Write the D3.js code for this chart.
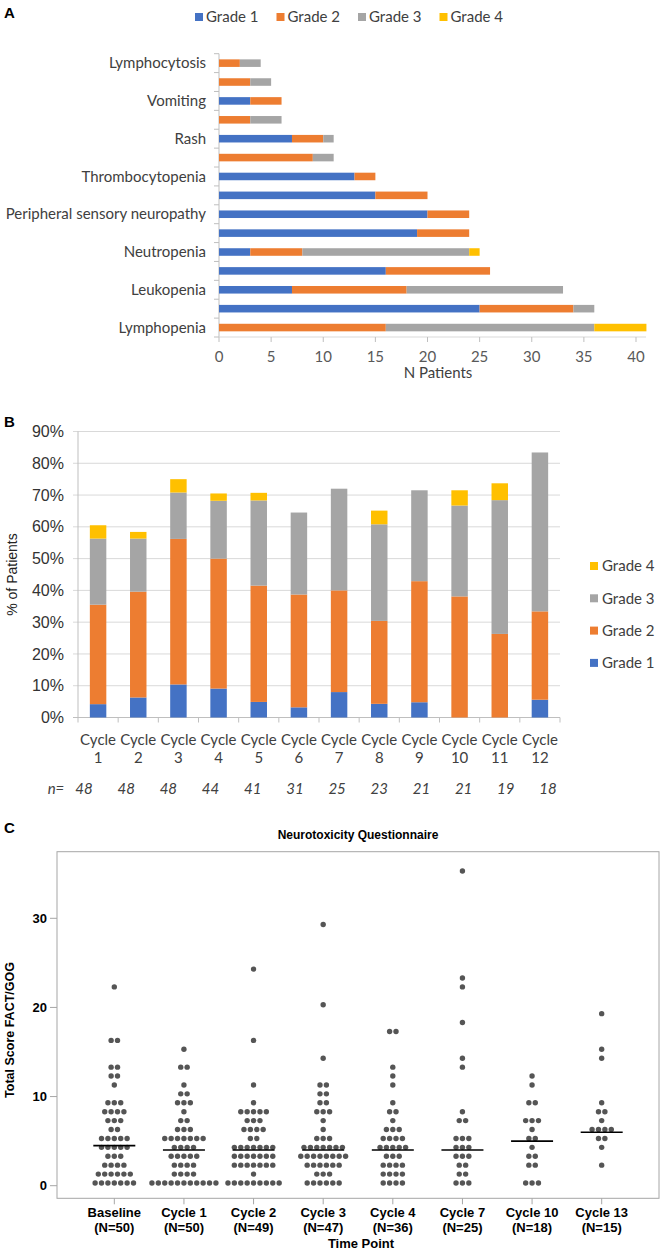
<!DOCTYPE html>
<html><head><meta charset="utf-8">
<script src="https://cdn.jsdelivr.net/npm/d3@7"></script>
<style>body{margin:0;background:#fff}svg{display:block}</style>
</head><body>
<svg id="c" width="662" height="1250"></svg>
<script>
// ---------- Panel A data ----------
const aeLabels = ["Lymphocytosis","","Vomiting","","Rash","","Thrombocytopenia","","Peripheral sensory neuropathy","","Neutropenia","","Leukopenia","","Lymphopenia"];
const aeGrade1 = [0,0,3,0,7,0,13,15,20,19,3,16,7,25,0];
const aeGrade2 = [2,3,3,3,3,9,2,5,4,5,5,10,11,9,16];
const aeGrade3 = [2,2,0,3,1,2,0,0,0,0,16,0,15,2,20];
const aeGrade4 = [0,0,0,0,0,0,0,0,0,0,1,0,0,0,5];
const aeTicks = [0,5,10,15,20,25,30,35,40];
const gradeNames = ["Grade 1","Grade 2","Grade 3","Grade 4"];

// ---------- Panel B data ----------
const cycles = ["Cycle 1","Cycle 2","Cycle 3","Cycle 4","Cycle 5","Cycle 6","Cycle 7","Cycle 8","Cycle 9","Cycle 10","Cycle 11","Cycle 12"];
const cycleN = [48,48,48,44,41,31,25,23,21,21,19,18];
const pctGrade1 = [4.2,6.3,10.4,9.1,4.9,3.2,8.0,4.3,4.8,0,0,5.6];
const pctGrade2 = [31.3,33.3,45.8,40.9,36.6,35.5,32.0,26.1,38.1,38.1,26.3,27.8];
const pctGrade3 = [20.8,16.7,14.6,18.2,26.8,25.8,32.0,30.4,28.6,28.6,42.1,50.0];
const pctGrade4 = [4.2,2.1,4.2,2.3,2.4,0,0,4.3,0,4.8,5.3,0];
const pctTicks = [0,10,20,30,40,50,60,70,80,90];

// ---------- Panel C data ----------
const timePoints = ["Baseline","Cycle 1","Cycle 2","Cycle 3","Cycle 4","Cycle 7","Cycle 10","Cycle 13"];
const timeN = [50,50,49,47,36,25,18,15];
const scoreBaseline = [0,0,0,0,0,0,0,1,1,1,1,1,1,2,2,2,2,3,3,3,4,4,4,4,4,5,5,5,5,5,6,6,7,7,7,8,8,8,8,9,9,9,11,12,12,13,13,16,16,22];
const scoreCycle1 = [0,0,0,0,0,0,0,0,0,0,0,1,1,1,1,2,2,2,2,3,3,3,3,3,4,4,4,4,5,5,5,5,5,5,5,6,6,6,7,7,8,9,9,9,10,10,11,13,13,15];
const scoreCycle2 = [0,0,0,0,0,0,0,0,0,1,2,2,2,2,2,2,2,3,3,3,3,3,3,3,4,4,4,4,4,4,4,5,5,6,6,6,6,7,7,7,8,8,8,8,8,9,11,16,24];
const scoreCycle3 = [0,0,0,0,0,0,1,1,1,2,2,2,2,2,2,3,3,3,3,3,3,3,3,4,4,4,4,4,4,4,5,5,5,6,7,8,8,8,9,9,10,10,11,11,14,20,29];
const scoreCycle4 = [0,0,0,0,1,1,1,1,2,2,2,2,3,3,3,4,4,4,4,4,5,5,5,5,6,6,6,7,8,8,9,11,12,13,17,17];
const scoreCycle7 = [0,0,0,1,1,2,2,3,3,3,4,4,4,5,5,5,7,7,8,13,14,18,22,23,35];
const scoreCycle10 = [0,0,0,2,2,3,3,4,5,5,6,7,7,7,9,9,11,12];
const scoreCycle13 = [2,4,5,5,6,6,6,6,7,8,8,9,14,15,19];
const yTicksC = [0,10,20,30];

// ---------- common ----------
const svg = d3.select("#c");
const fCal = "Lato, 'Open Sans', sans-serif";
const fAr = "'Liberation Sans', Arial, sans-serif";
const gradeColors = ["#4472C4","#ED7D31","#A5A5A5","#FFC000"];

function panelLetter(t, x, y){
  svg.append("text").attr("x",x).attr("y",y).text(t)
    .attr("font-family",fAr).attr("font-weight","bold").attr("font-size",15).attr("fill","#000");
}

// =============== Panel A ===============
panelLetter("A",4,17.5);
const ax = d3.scaleLinear().domain([0,40]).range([219,636]);
const ay = d3.scaleBand().domain(d3.range(aeLabels.length)).range([53.7,337]).paddingInner(0.6).paddingOuter(0.3);
const aSeries = [aeGrade1,aeGrade2,aeGrade3,aeGrade4];
const aRows = aeLabels.map((l,i)=>({i}));
const aStack = d3.stack().keys([0,1,2,3]).value((d,k)=>aSeries[k][d.i])(aRows);

const gA = svg.append("g");
const aStep = ay.step();
const aTop = ay.range()[0];
gA.append("line").attr("x1",ax(0)).attr("x2",ax(0)).attr("y1",aTop).attr("y2",aTop+aStep*aeLabels.length).attr("stroke","#bfbfbf");
gA.selectAll("line.yt").data(d3.range(aeLabels.length+1)).join("line")
  .attr("x1",ax(0)-5).attr("x2",ax(0)).attr("y1",k=>aTop+k*aStep).attr("y2",k=>aTop+k*aStep).attr("stroke","#bfbfbf");
const aBottom = aTop+aStep*aeLabels.length;
gA.append("line").attr("x1",ax(0)).attr("x2",ax(40)+10).attr("y1",aBottom).attr("y2",aBottom).attr("stroke","#d9d9d9");
gA.selectAll("line.xt").data(aeTicks).join("line")
  .attr("x1",d=>ax(d)).attr("x2",d=>ax(d)).attr("y1",aBottom).attr("y2",aBottom+5).attr("stroke","#bfbfbf");
gA.selectAll("text.xl").data(aeTicks).join("text")
  .attr("x",d=>ax(d)).attr("y",aBottom+25).attr("text-anchor","middle")
  .attr("font-family",fCal).attr("font-size",15).attr("fill","#595959").text(d=>d);
gA.append("text").attr("x",438).attr("y",aBottom+41).attr("text-anchor","middle")
  .attr("font-family",fCal).attr("font-size",15).attr("fill","#404040").text("N Patients");
aStack.forEach((s,k)=>{
  gA.selectAll(null).data(s.filter(d=>d[1]>d[0])).join("rect")
    .attr("x",d=>ax(d[0])).attr("width",d=>ax(d[1])-ax(d[0]))
    .attr("y",d=>ay(d.data.i)).attr("height",ay.bandwidth())
    .attr("fill",gradeColors[k]);
});
gA.selectAll("text.cat").data(aeLabels.map((l,i)=>({l,i})).filter(d=>d.l)).join("text")
  .attr("x",206).attr("y",d=>ay(d.i)+ay.bandwidth()/2).attr("dy","0.35em").attr("text-anchor","end")
  .attr("font-family",fCal).attr("font-size",15).attr("fill","#404040").text(d=>d.l);
{
  let x = 195;
  gradeNames.forEach((n,k)=>{
    gA.append("rect").attr("x",x).attr("y",13).attr("width",8).attr("height",8).attr("fill",gradeColors[k]);
    const t = gA.append("text").attr("x",x+11).attr("y",17).attr("dy","0.35em")
      .attr("font-family",fCal).attr("font-size",15).attr("fill","#404040").text(n);
    x += 11 + t.node().getComputedTextLength() + 18;
  });
}

// =============== Panel B ===============
panelLetter("B",4,426.5);
const bx = d3.scaleBand().domain(cycles).range([78,560]).paddingInner(0.59).paddingOuter(0.295);
const by = d3.scaleLinear().domain([0,90]).range([717.5,431.5]);
const bSeries = [pctGrade1,pctGrade2,pctGrade3,pctGrade4];
const bRows = cycles.map((c,i)=>({c,i}));
const bStack = d3.stack().keys([0,1,2,3]).value((d,k)=>bSeries[k][d.i])(bRows);
const gB = svg.append("g");
gB.selectAll("line.grid").data(pctTicks).join("line")
  .attr("x1",73).attr("x2",560).attr("y1",d=>by(d)).attr("y2",d=>by(d))
  .attr("stroke",d=>d===0?"#bfbfbf":"#d9d9d9");
gB.append("line").attr("x1",78).attr("x2",78).attr("y1",by(90)).attr("y2",by(0)).attr("stroke","#bfbfbf");
const bStep = bx.step();
gB.selectAll("line.xt").data(d3.range(cycles.length+1)).join("line")
  .attr("x1",k=>78+k*bStep).attr("x2",k=>78+k*bStep).attr("y1",by(0)).attr("y2",by(0)+5).attr("stroke","#bfbfbf");
gB.selectAll("text.yl").data(pctTicks).join("text")
  .attr("x",64).attr("y",d=>by(d)).attr("dy","0.35em").attr("text-anchor","end")
  .attr("font-family",fAr).attr("font-size",16).attr("fill","#333").text(d=>d+"%");
gB.append("text").attr("transform","translate(17,574.5) rotate(-90)").attr("text-anchor","middle")
  .attr("font-family",fAr).attr("font-size",14).attr("fill","#222").text("% of Patients");
bStack.forEach((s,k)=>{
  gB.selectAll(null).data(s.filter(d=>d[1]>d[0])).join("rect")
    .attr("x",d=>bx(d.data.c)).attr("width",bx.bandwidth())
    .attr("y",d=>by(d[1])).attr("height",d=>by(d[0])-by(d[1]))
    .attr("fill",gradeColors[k]);
});
gB.selectAll("text.cl").data(cycles).join("text")
  .attr("x",d=>bx(d)+bx.bandwidth()/2).attr("y",745).attr("text-anchor","middle")
  .attr("font-family",fCal).attr("font-size",15).attr("fill","#404040")
  .each(function(d){
    const parts = d.split(" ");
    d3.select(this).append("tspan").attr("x",bx(d)+bx.bandwidth()/2).text(parts[0]);
    d3.select(this).append("tspan").attr("x",bx(d)+bx.bandwidth()/2).attr("dy",18).text(parts[1]);
  });
const nx = d3.scalePoint().domain(cycles).range([84,548]);
gB.append("text").attr("x",56).attr("y",794).attr("text-anchor","middle")
  .attr("font-family",fCal).attr("font-style","italic").attr("font-size",15).attr("fill","#404040").text("n=");
gB.selectAll("text.n").data(cycles).join("text")
  .attr("x",d=>nx(d)).attr("y",794).attr("text-anchor","middle")
  .attr("font-family",fCal).attr("font-style","italic").attr("font-size",15).attr("fill","#404040")
  .text((d,i)=>cycleN[i]);
[3,2,1,0].forEach((k,j)=>{
  const y = 566 + j*32.3;
  gB.append("rect").attr("x",590).attr("y",y-4).attr("width",8).attr("height",8).attr("fill",gradeColors[k]);
  gB.append("text").attr("x",602).attr("y",y).attr("dy","0.35em")
    .attr("font-family",fCal).attr("font-size",15).attr("fill","#404040").text(gradeNames[k]);
});

// =============== Panel C ===============
panelLetter("C",4,832.5);
const scores = [scoreBaseline,scoreCycle1,scoreCycle2,scoreCycle3,scoreCycle4,scoreCycle7,scoreCycle10,scoreCycle13];
const cx = d3.scaleBand().domain(timePoints).range([79.5,636.5]);
const cy = d3.scaleLinear().domain([0,30]).range([1185.7,918.3]);
const gC = svg.append("g");
const frame = {x0:57,x1:659,y0:851.7,y1:1198.3};
gC.append("text").attr("x",(frame.x0+frame.x1)/2).attr("y",839).attr("text-anchor","middle")
  .attr("font-family",fAr).attr("font-weight","bold").attr("font-size",12).attr("fill","#000").text("Neurotoxicity Questionnaire");
gC.append("rect").attr("x",frame.x0).attr("y",frame.y0).attr("width",frame.x1-frame.x0).attr("height",frame.y1-frame.y0)
  .attr("fill","none").attr("stroke","#a6a6a6");
gC.selectAll("line.yt").data(yTicksC).join("line")
  .attr("x1",frame.x0-7).attr("x2",frame.x0).attr("y1",d=>cy(d)).attr("y2",d=>cy(d)).attr("stroke","#a6a6a6");
gC.selectAll("text.yl").data(yTicksC).join("text")
  .attr("x",frame.x0-10).attr("y",d=>cy(d)).attr("dy","0.35em").attr("text-anchor","end")
  .attr("font-family",fAr).attr("font-weight","bold").attr("font-size",13).attr("fill","#000").text(d=>d);
gC.append("text").attr("transform","translate(14,1030) rotate(-90)").attr("text-anchor","middle")
  .attr("font-family",fAr).attr("font-weight","bold").attr("font-size",12.5).attr("fill","#000").text("Total Score FACT/GOG");
gC.selectAll("line.xt").data(timePoints).join("line")
  .attr("x1",d=>cx(d)+cx.bandwidth()/2).attr("x2",d=>cx(d)+cx.bandwidth()/2)
  .attr("y1",frame.y1).attr("y2",frame.y1+6).attr("stroke","#a6a6a6");
gC.selectAll("text.xl").data(timePoints).join("text")
  .attr("x",d=>cx(d)+cx.bandwidth()/2).attr("y",1217).attr("text-anchor","middle")
  .attr("font-family",fAr).attr("font-weight","bold").attr("font-size",13).attr("fill","#000")
  .each(function(d,i){
    const xc = cx(d)+cx.bandwidth()/2;
    d3.select(this).append("tspan").attr("x",xc).text(d);
    d3.select(this).append("tspan").attr("x",xc).attr("dy",15).text("(N="+timeN[i]+")");
  });
gC.append("text").attr("x",361).attr("y",1248).attr("text-anchor","middle")
  .attr("font-family",fAr).attr("font-weight","bold").attr("font-size",13).attr("fill","#000").text("Time Point");
const r = 2.7, dx = 6.4;
timePoints.forEach((tp,i)=>{
  const xc = cx(tp)+cx.bandwidth()/2;
  const groups = d3.rollups(scores[i], v=>v.length, d=>d);
  const pts = [];
  groups.forEach(([v,k])=>{
    for(let j=0;j<k;j++) pts.push({v, off:(j-(k-1)/2)*dx});
  });
  gC.selectAll(null).data(pts).join("circle")
    .attr("cx",d=>xc+d.off).attr("cy",d=>cy(d.v)-r).attr("r",r).attr("fill","#555");
  const med = d3.median(scores[i]);
  gC.append("line").attr("x1",xc-21).attr("x2",xc+21).attr("y1",cy(med)).attr("y2",cy(med))
    .attr("stroke","#000").attr("stroke-width",1.6);
});
</script>
</body></html>
